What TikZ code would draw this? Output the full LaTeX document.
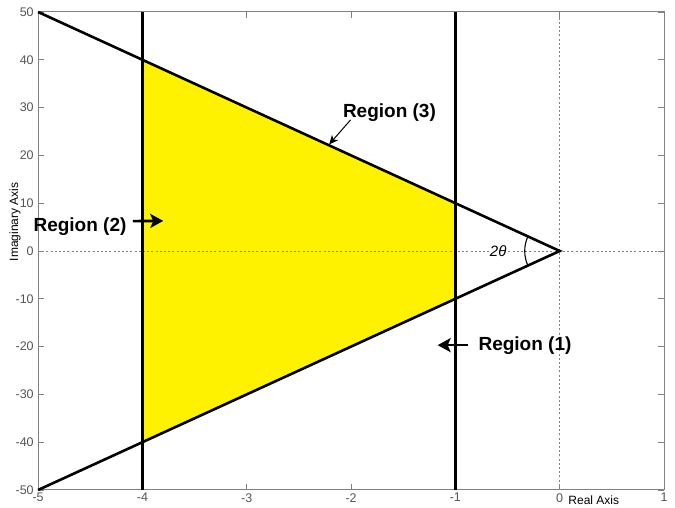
\documentclass[tikz,border=0pt]{standalone}
\usepackage{fontspec}
\setmainfont{Liberation Sans}
\usetikzlibrary{arrows.meta}
\definecolor{axgray}{RGB}{130,130,130}
\definecolor{lblgray}{RGB}{85,85,85}

\begin{document}
\begin{tikzpicture}[x=104.33pt,y=4.78pt,line width=.8pt,font=\fontsize{11}{13}\selectfont,
  bigline/.style={line width=2.6pt,black},
  dotline/.style={axgray,line width=.8pt,dash pattern=on 2pt off 2.2pt},
  ticklbl/.style={text=lblgray,inner sep=0pt,font=\fontsize{12.5}{14}\selectfont},
  regionlbl/.style={font=\fontsize{19}{21}\selectfont\bfseries,inner sep=0pt},
  bigarrow/.style={line width=2.6pt,-{Stealth[length=13pt,width=14pt,inset=3pt]}},
  thinarrow/.style={line width=1pt,-{Stealth[length=9pt,width=8pt,inset=2.5pt]}}]
\useasboundingbox (-5.365,-53.56) rectangle (1.105,52.51);
\fill[yellow] (-4,40)--(-1,10)--(-1,-10)--(-4,-40)--cycle;
\draw[dotline] (-5,0)--(1,0) (0,-50)--(0,50);
\draw[axgray,line width=1pt] (-5,-50) rectangle (1,50);
\foreach \x in {-5,...,1} {
  \draw[axgray] (\x,-50)--++(0pt,6pt) (\x,50)--++(0pt,-6pt);
  \node[ticklbl,anchor=north] (xt\x) at ([yshift=-3pt]\x,-50) {\x};
}
\foreach \y in {-50,-40,...,50} {
  \draw[axgray] (-5,\y)--++(6pt,0pt) (1,\y)--++(-6pt,0pt);
  \node[ticklbl,anchor=east] (yt\y) at ([xshift=-4pt]-5,\y) {\y};
}
\node[anchor=north west,inner sep=0pt,font=\fontsize{12}{13}\selectfont] (xlab) at (0.08,-51.2) {Real Axis};
\node[rotate=90,inner sep=0pt,font=\fontsize{12}{13}\selectfont] (ylab) at (-5.22,6.1) {Imaginary Axis};
\coordinate (apex) at (0,0);
\coordinate (topl) at (-5,50);
\coordinate (botl) at (-5,-50);
\draw[bigline] (-4,-50)--(-4,50) (-1,-50)--(-1,50);
\draw[bigline,line join=miter] (topl)--(apex)--(botl);
\draw[line width=1.1pt] (apex) ++(155.4:35pt) arc[start angle=155.4,end angle=204.6,radius=35pt];
\node[fill=white,inner sep=1pt,font=\fontsize{15}{17}\selectfont\itshape] (ang) at (-0.59,0) {2θ};
\node[regionlbl] (r2) at (-4.598,5.0) {Region (2)};
\node[regionlbl] (r3) at (-1.632,28.9) {Region (3)};
\node[regionlbl] (r1) at (-0.333,-19.7) {Region (1)};
\coordinate (r2tip) at (-3.80,6.3);
\coordinate (r3tip) at (-2.21,22.3);
\coordinate (r1tip) at (-1.17,-19.7);
\draw[bigarrow] ([xshift=6pt,yshift=6pt]r2.east)--(r2tip);
\draw[thinarrow] ([xshift=8pt,yshift=-7pt]r3.west)--(r3tip);
\draw[bigarrow] ([xshift=-10pt]r1.west)--(r1tip);
\end{tikzpicture}
\end{document}
